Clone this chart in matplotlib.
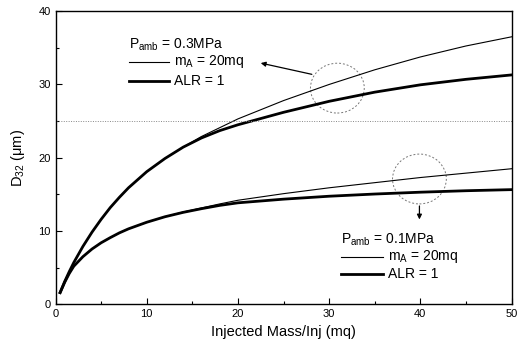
import matplotlib
matplotlib.use('Agg')
import matplotlib.pyplot as plt
from matplotlib.patches import Ellipse
from matplotlib.ticker import MultipleLocator

plt.rcParams['font.family'] = ['Liberation Sans', 'DejaVu Sans']
plt.rcParams['mathtext.fontset'] = 'custom'
plt.rcParams['mathtext.rm'] = 'Liberation Sans'

# injected mass per injection (mg)
mass = [0.5, 1, 1.5, 2, 3, 4, 5, 6, 7, 8, 10, 12, 14, 16, 18, 20, 25, 30, 35, 40, 45, 50]

# P_amb = 0.3 MPa
high_thin = [1.6, 3.1, 4.45, 5.7, 7.9, 9.85, 11.6, 13.2, 14.6, 15.9, 18.1, 19.9, 21.45,
             22.9, 24.1, 25.3, 27.8, 30.0, 32.0, 33.75, 35.25, 36.5]
high_thick = [1.6, 3.1, 4.45, 5.7, 7.9, 9.85, 11.6, 13.2, 14.6, 15.9, 18.1, 19.9, 21.45,
              22.7, 23.7, 24.5, 26.2, 27.7, 28.95, 29.95, 30.7, 31.3]

# P_amb = 0.1 MPa
low_thin = [1.6, 3.0, 4.2, 5.2, 6.5, 7.55, 8.4, 9.1, 9.75, 10.3, 11.2, 11.95, 12.6,
            13.15, 13.7, 14.2, 15.1, 15.9, 16.6, 17.3, 17.9, 18.5]
low_thick = [1.6, 3.0, 4.2, 5.2, 6.5, 7.55, 8.4, 9.1, 9.75, 10.3, 11.2, 11.95, 12.55,
             13.05, 13.5, 13.85, 14.35, 14.75, 15.05, 15.3, 15.5, 15.65]

ref_level = 25

fig = plt.figure(figsize=(5.29, 3.49), dpi=100)
ax = fig.add_axes([0.105, 0.128, 0.862, 0.840])

ax.plot(mass, high_thin, color='black', lw=0.8)
ax.plot(mass, high_thick, color='black', lw=2.0)
ax.plot(mass, low_thin, color='black', lw=0.8)
ax.plot(mass, low_thick, color='black', lw=2.0)
ax.axhline(ref_level, color='#888888', lw=0.7, ls=(0, (1, 1.5)))

ax.set_xlim(0, 50)
ax.set_ylim(0, 40)
ax.xaxis.set_major_locator(MultipleLocator(10))
ax.xaxis.set_minor_locator(MultipleLocator(5))
ax.yaxis.set_major_locator(MultipleLocator(10))
ax.yaxis.set_minor_locator(MultipleLocator(5))
ax.tick_params(which='both', direction='in', labelsize=8, width=0.8)
ax.tick_params(which='major', length=4)
ax.tick_params(which='minor', length=2.5)
for s in ax.spines.values():
    s.set_linewidth(1.0)

ax.set_xlabel('Injected Mass/Inj (mq)', fontsize=10.5, labelpad=4)
ax.set_ylabel('D$_{32}$ (μm)', fontsize=10.5, labelpad=8)

# circles and arrows
for cx, cy in [(30.9, 29.5), (39.9, 17.1)]:
    ax.add_patch(Ellipse((cx, cy), 5.9, 6.8, fill=False, ec='#777777', lw=0.7, ls=(0, (2, 2))))
ax.annotate('', xy=(22.2, 33.0), xytext=(28.4, 31.3),
            arrowprops=dict(arrowstyle='-|>', color='black', lw=0.9, mutation_scale=7))
ax.annotate('', xy=(39.9, 11.2), xytext=(39.9, 13.8),
            arrowprops=dict(arrowstyle='-|>', color='black', lw=0.9, mutation_scale=7))

# legend blocks
fs = 10
ax.text(8.1, 35.4, 'P$_{\\mathrm{amb}}$ = 0.3MPa', fontsize=fs, va='center')
ax.plot([8.0, 12.4], [33.1, 33.1], color='black', lw=0.8)
ax.text(13.0, 33.1, 'm$_{\\mathrm{A}}$ = 20mq', fontsize=fs, va='center')
ax.plot([8.0, 12.4], [30.5, 30.5], color='black', lw=2.0)
ax.text(13.0, 30.5, 'ALR = 1', fontsize=fs, va='center')

ax.text(31.3, 8.8, 'P$_{\\mathrm{amb}}$ = 0.1MPa', fontsize=fs, va='center')
ax.plot([31.3, 35.9], [6.5, 6.5], color='black', lw=0.8)
ax.text(36.4, 6.5, 'm$_{\\mathrm{A}}$ = 20mq', fontsize=fs, va='center')
ax.plot([31.3, 35.9], [4.1, 4.1], color='black', lw=2.0)
ax.text(36.4, 4.1, 'ALR = 1', fontsize=fs, va='center')

fig.savefig('out.png', dpi=100)
